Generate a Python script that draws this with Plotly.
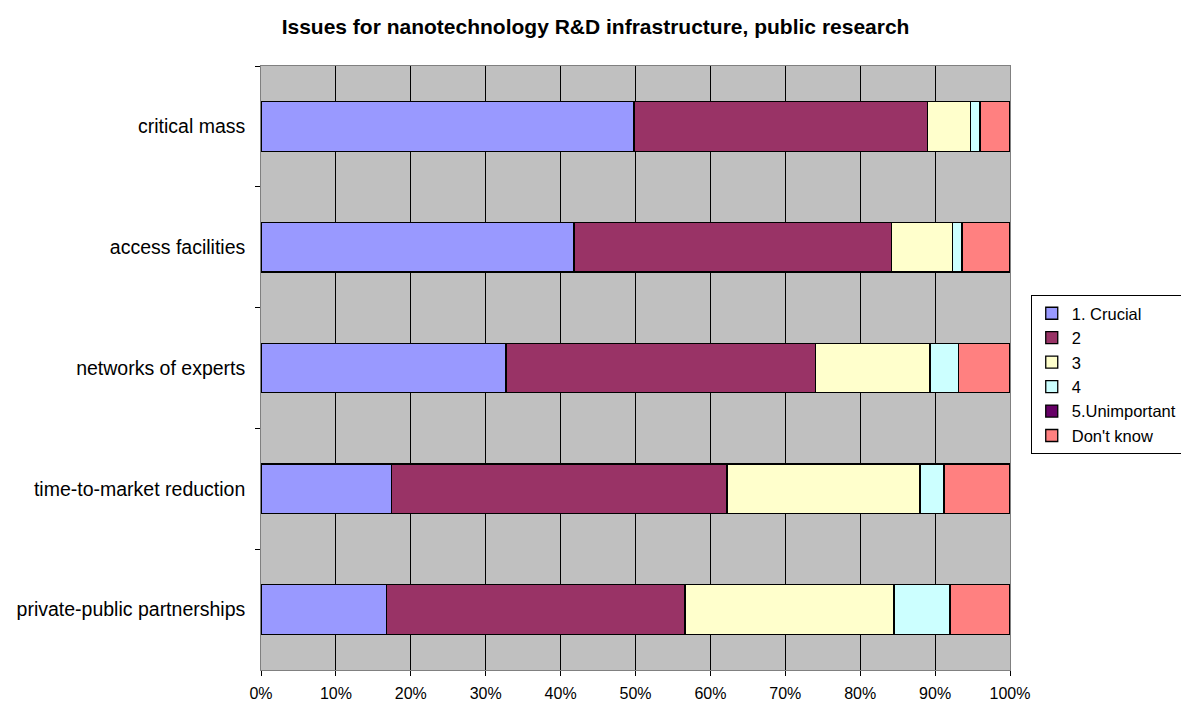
import plotly.graph_objects as go

# categories (top to bottom)
categories = ['critical mass', 'access facilities', 'networks of experts',
              'time-to-market reduction', 'private-public partnerships']

# shares in %
crucial = [49.8, 41.8, 32.7, 17.4, 16.8]
level2 = [39.2, 42.4, 41.3, 44.8, 39.8]
level3 = [5.7, 8.1, 15.3, 25.8, 27.9]
level4 = [1.3, 1.3, 3.8, 3.2, 7.5]
unimportant = [0, 0, 0, 0, 0]
dont_know = [4.0, 6.4, 6.9, 8.8, 8.0]

series = [('1. Crucial', crucial, '#9999FF'),
          ('2', level2, '#993366'),
          ('3', level3, '#FFFFCC'),
          ('4', level4, '#CCFFFF'),
          ('5.Unimportant', unimportant, '#660066'),
          ("Don't know", dont_know, '#FF8080')]

pourcent = ['0%', '10%', '20%', '30%', '40%', '50%', '60%', '70%', '80%', '90%', '100%']

fig = go.Figure()
for nom, vals, col in series:
    fig.add_trace(go.Bar(y=categories, x=vals, name=nom, orientation='h',
                         marker=dict(color=col, line=dict(color='black', width=1.3))))

# la page a une marge de 8px -> on compense (marges fixes, pas d'automargin)
fig.update_layout(
    barmode='stack',
    bargap=0.59,
    width=1181, height=696,
    margin=dict(l=253, r=179, t=58, b=34),
    paper_bgcolor='white',
    plot_bgcolor='#C0C0C0',
    font=dict(family='Arial, Liberation Sans, sans-serif', size=17, color='black'),
    title=dict(text='<b>Issues for nanotechnology R&D infrastructure, public research</b>',
               x=0.4975, xref='container', xanchor='center', y=0.973, yanchor='middle',
               font=dict(size=21)),
    legend=dict(x=0.866, y=0.5876, xref='container', yref='container',
                xanchor='left', yanchor='top',
                bordercolor='black', borderwidth=1, traceorder='normal',
                font=dict(size=16.5), tracegroupgap=0, itemwidth=30),
    xaxis=dict(range=[0, 100], tickvals=[0, 10, 20, 30, 40, 50, 60, 70, 80, 90, 100],
               ticktext=pourcent, automargin=False,
               showgrid=True, gridcolor='black', gridwidth=1,
               ticks='outside', ticklen=5, tickcolor='black', ticklabelstandoff=4,
               showline=True, linecolor='#808080', mirror=True,
               tickfont=dict(size=16), zeroline=False),
    yaxis=dict(autorange='reversed', ticks='outside', ticklen=5, tickcolor='black',
               tickson='boundaries', showline=True, linecolor='#808080', mirror=True,
               showgrid=False, ticksuffix='  ', tickfont=dict(size=19.5), automargin=False),
)

fig.write_html('out.html')
